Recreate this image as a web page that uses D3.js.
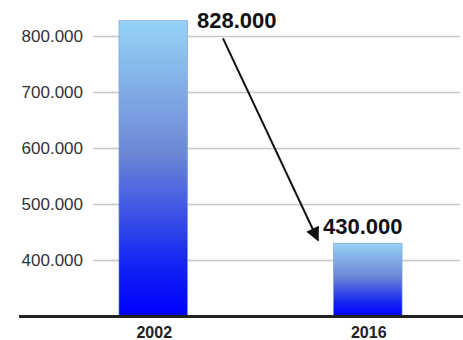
<!DOCTYPE html>
<html>
<head>
<meta charset="utf-8">
<script src="https://cdn.jsdelivr.net/npm/d3@7"></script>
<style>
  body { margin: 0; background: #fff; }
  text { font-family: "Liberation Sans", Arial, sans-serif; }
</style>
</head>
<body>
<script>
// chart data
var years = ["2002", "2016"];
var values = [828000, 430000];
var valueLabels = ["828.000", "430.000"];
var tickValues = [400000, 500000, 600000, 700000, 800000];
var tickLabels = ["400.000", "500.000", "600.000", "700.000", "800.000"];

var svgWidth = 463;
var svgHeight = 340;

var svg = d3.select("body")
  .append("svg")
  .attr("width", svgWidth)
  .attr("height", svgHeight);

// scales
var yScale = d3.scaleLinear().domain([300000, 800000]).range([316, 36]);
var xScale = d3.scaleBand().domain(years).range([46, 475]).paddingInner(0.68).paddingOuter(0.34);

// gradient for bars
var defs = svg.append("defs");
var grad = defs.append("linearGradient")
  .attr("id", "barGrad")
  .attr("x1", 0).attr("y1", 0).attr("x2", 0).attr("y2", 1);
grad.append("stop").attr("offset", "0%").attr("stop-color", "#95d3f6");
grad.append("stop").attr("offset", "45%").attr("stop-color", "#6d88d6");
grad.append("stop").attr("offset", "82%").attr("stop-color", "#1226f2");
grad.append("stop").attr("offset", "100%").attr("stop-color", "#0000ff");

var marker = defs.append("marker")
  .attr("id", "arrowHead")
  .attr("viewBox", "0 0 10 10")
  .attr("refX", 9).attr("refY", 5)
  .attr("markerWidth", 7.5).attr("markerHeight", 7)
  .attr("markerUnits", "strokeWidth")
  .attr("orient", "auto");
marker.append("path").attr("d", "M0,0 L10,5 L0,10 Z").attr("fill", "#111");

// gridlines + y axis
var yAxis = d3.axisLeft(yScale)
  .tickValues(tickValues)
  .tickFormat(function (d, i) { return tickLabels[i]; })
  .tickSize(-(460 - 93))
  .tickPadding(10);

var yG = svg.append("g")
  .attr("transform", "translate(93,0)")
  .call(yAxis);
yG.select(".domain").remove();
yG.selectAll(".tick line").attr("stroke", "#c8c8c8").attr("stroke-width", 1.4);
yG.selectAll(".tick text")
  .attr("fill", "#333")
  .style("font-size", "17px");

// bars
svg.selectAll("rect.bar")
  .data(values)
  .enter()
  .append("rect")
  .attr("class", "bar")
  .attr("x", function (d, i) { return xScale(years[i]); })
  .attr("y", function (d) { return yScale(d); })
  .attr("width", xScale.bandwidth())
  .attr("height", function (d) { return yScale(300000) - yScale(d); })
  .attr("fill", "url(#barGrad)")
  .attr("stroke", "#7f9fd0")
  .attr("stroke-width", 0.6);

// baseline
svg.append("line")
  .attr("x1", 19).attr("x2", 463)
  .attr("y1", yScale(300000) + 0.5).attr("y2", yScale(300000) + 0.5)
  .attr("stroke", "#222").attr("stroke-width", 3);

// x labels
svg.selectAll("text.xlab")
  .data(years)
  .enter()
  .append("text")
  .attr("class", "xlab")
  .attr("x", function (d) { return xScale(d) + xScale.bandwidth() / 2 + 1; })
  .attr("y", 338)
  .attr("text-anchor", "middle")
  .attr("font-weight", "bold")
  .attr("font-size", "16px")
  .attr("fill", "#222")
  .text(function (d) { return d; });

// value labels: first one sits beside the bar top, second above its bar
var labelX = [197, 323];
var labelDy = [8, -9];
svg.selectAll("text.vlab")
  .data(values)
  .enter()
  .append("text")
  .attr("class", "vlab")
  .attr("x", function (d, i) { return labelX[i]; })
  .attr("y", function (d, i) { return yScale(d) + labelDy[i]; })
  .attr("font-weight", "bold")
  .attr("font-size", "22px")
  .attr("fill", "#111")
  .text(function (d, i) { return valueLabels[i]; });

// arrow from first to second
svg.append("line")
  .attr("x1", 223).attr("y1", yScale(values[0]) + 18)
  .attr("x2", 318).attr("y2", yScale(values[1]) - 3)
  .attr("stroke", "#111")
  .attr("stroke-width", 2)
  .attr("marker-end", "url(#arrowHead)");
</script>
</body>
</html>
